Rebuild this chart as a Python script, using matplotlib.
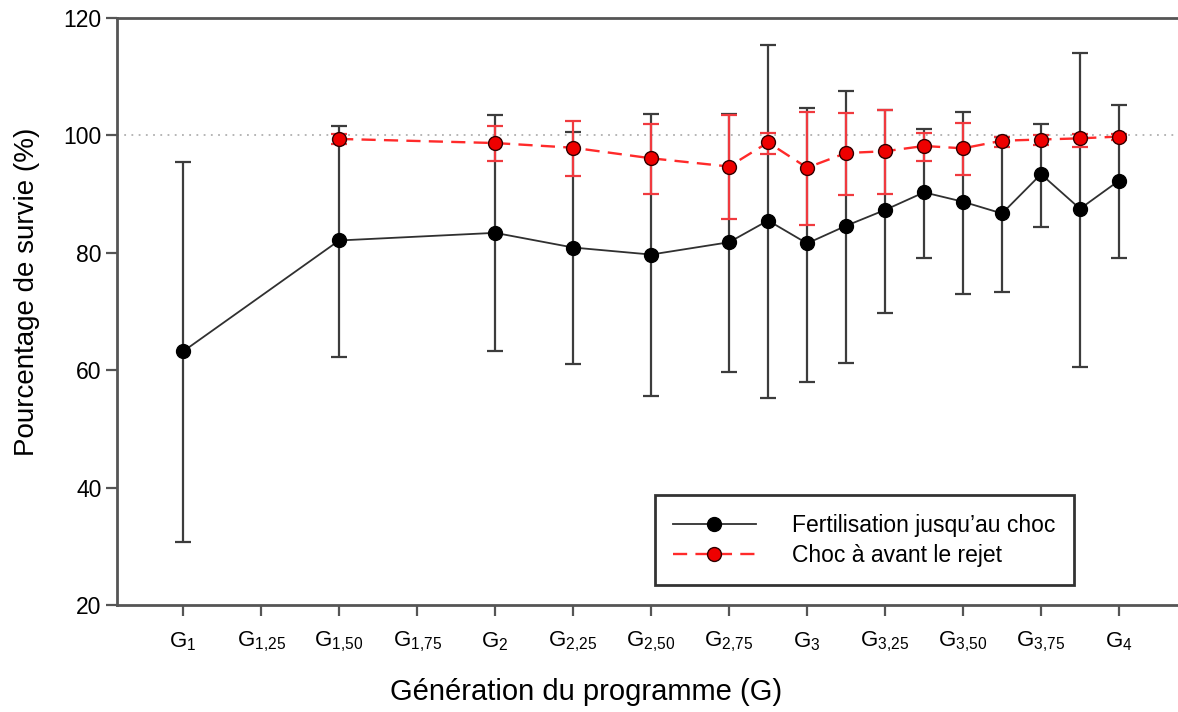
import numpy as np
import matplotlib
matplotlib.use('Agg')
import matplotlib.pyplot as plt

# generation positions (G1 = 1, one tick every quarter generation)
x_black = [1, 1.5, 2, 2.25, 2.5, 2.75, 2.875, 3, 3.125, 3.25, 3.375, 3.5, 3.625, 3.75, 3.875, 4]
black_mean = [63.2, 82.1, 83.4, 80.9, 79.7, 81.8, 85.5, 81.6, 84.6, 87.3, 90.3, 88.7, 86.7, 93.4, 87.5, 92.3]
black_low = [30.8, 62.2, 63.2, 61.0, 55.6, 59.7, 55.3, 58.0, 61.2, 69.8, 79.1, 72.9, 73.3, 84.4, 60.6, 79.1]
black_high = [95.5, 101.6, 103.5, 100.6, 103.6, 103.6, 115.4, 104.7, 107.6, 104.4, 101.1, 104.0, 99.8, 101.9, 114.1, 105.2]

x_red = [1.5, 2, 2.25, 2.5, 2.75, 2.875, 3, 3.125, 3.25, 3.375, 3.5, 3.625, 3.75, 3.875, 4]
red_mean = [99.4, 98.7, 97.9, 96.1, 94.7, 98.8, 94.5, 97.0, 97.3, 98.2, 97.8, 99.1, 99.3, 99.5, 99.8]
red_low = [98.6, 95.6, 93.1, 90.0, 85.8, 96.8, 84.7, 89.8, 90.0, 95.6, 93.3, 98.0, 98.4, 98.0, 99.2]
red_high = [100.2, 101.6, 102.5, 102.0, 103.5, 100.4, 104.0, 103.9, 104.4, 100.4, 102.1, 99.8, 100.1, 100.3, 100.3]

tick_pos = [1, 1.25, 1.5, 1.75, 2, 2.25, 2.5, 2.75, 3, 3.25, 3.5, 3.75, 4]
tick_sub = ['1', '1{,}25', '1{,}50', '1{,}75', '2', '2{,}25', '2{,}50', '2{,}75',
            '3', '3{,}25', '3{,}50', '3{,}75', '4']

label_black = 'Fertilisation jusqu\u2019au choc'
label_red = 'Choc \u00e0 avant le rejet'

plt.rcParams['font.family'] = ['Liberation Sans', 'DejaVu Sans']

fig = plt.figure(figsize=(11.78, 7.12), dpi=100)
ax = fig.add_axes([0.0993, 0.1503, 0.9007, 0.8244])

ax.axhline(100, color='#b0b0b0', linestyle=(0, (1, 3)), linewidth=1.3, zorder=1)

bm = np.array(black_mean)
ax.errorbar(x_black, bm, yerr=[bm - np.array(black_low), np.array(black_high) - bm],
            fmt='none', ecolor='#3c3c3c', elinewidth=1.6, capsize=5.5, capthick=1.6, zorder=2)
rm = np.array(red_mean)
ax.errorbar(x_red, rm, yerr=[rm - np.array(red_low), np.array(red_high) - rm],
            fmt='none', ecolor='#f03a3f', elinewidth=1.6, capsize=6, capthick=1.6, zorder=3)

ax.plot(x_black, black_mean, color='#303030', linewidth=1.3, marker='o', markersize=10,
        markerfacecolor='black', markeredgecolor='black', label=label_black, zorder=4)
ax.plot(x_red, red_mean, color='#ff2a2a', linewidth=1.7, linestyle=(0, (6, 3.5)), marker='o',
        markersize=10, markerfacecolor='#ee0000', markeredgecolor='#300000', markeredgewidth=1.0,
        label=label_red, zorder=5)

ax.set_xlim(0.788, 4.189)
ax.set_ylim(20, 120)
ax.set_yticks([20, 40, 60, 80, 100, 120])
ax.set_xticks(tick_pos)
ax.set_xticklabels([r'$\mathregular{G_{%s}}$' % s for s in tick_sub], fontsize=16)
ax.tick_params(axis='y', labelsize=16.5, direction='out', length=8, width=1.6, color='#555555', pad=3)
ax.tick_params(axis='x', direction='out', length=8, width=1.6, color='#555555', pad=10)

for side in ['top', 'left', 'bottom']:
    ax.spines[side].set_color('#555555')
    ax.spines[side].set_linewidth(2)
ax.spines['right'].set_visible(False)

ax.set_ylabel('Pourcentage de survie (%)', fontsize=20)
ax.yaxis.set_label_coords(-0.073, 0.533)
ax.set_xlabel('G\u00e9n\u00e9ration du programme (G)', fontsize=21)
ax.xaxis.set_label_coords(0.442, -0.125)

leg = ax.legend(loc='lower left', bbox_to_anchor=(0.507, 0.034), borderaxespad=0,
                fontsize=16.5, frameon=True, fancybox=False, edgecolor='black',
                handlelength=3.6, handletextpad=1.6, borderpad=0.8, labelspacing=0.3)
leg.get_frame().set_linewidth(2)

plt.savefig('out.png', dpi=100)
